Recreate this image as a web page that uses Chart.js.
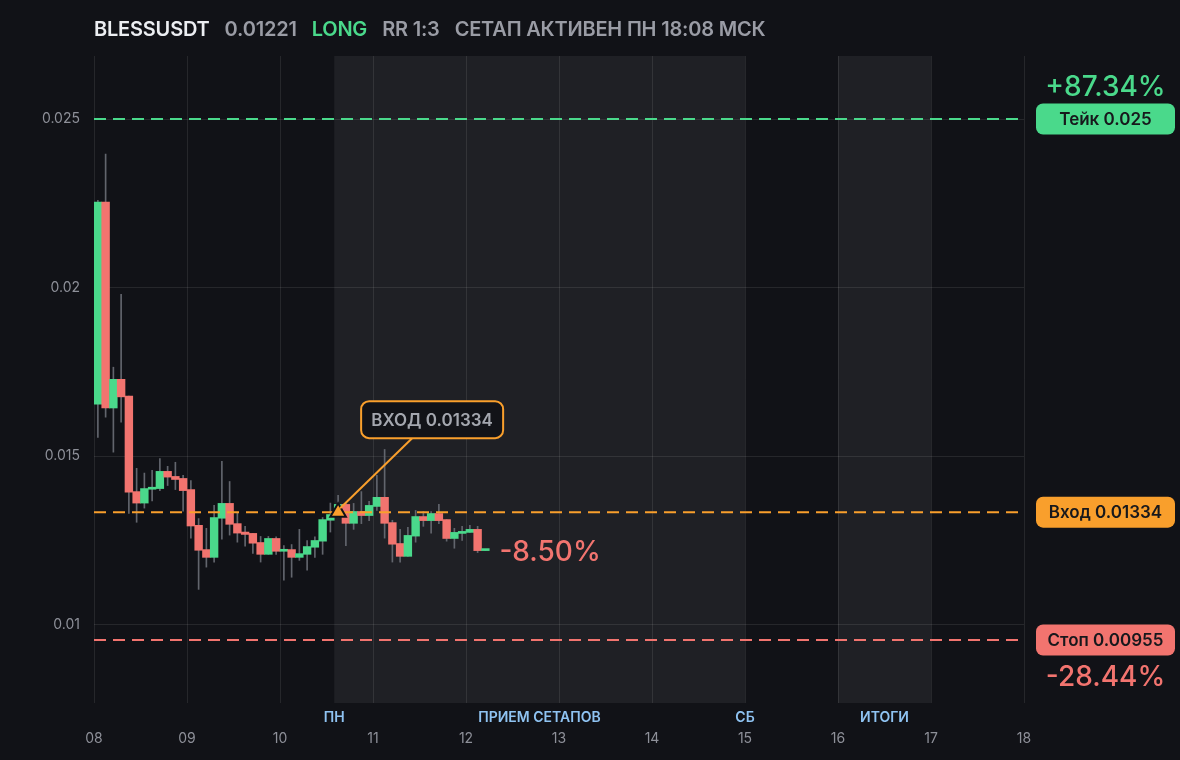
<!DOCTYPE html>
<html lang="ru">
<head>
<meta charset="utf-8">
<title>BLESSUSDT</title>
<script src="https://cdn.jsdelivr.net/npm/chart.js@4.4.1/dist/chart.umd.min.js"></script>
<style>
  html, body { margin:0; padding:0; background:#111217; }
  #wrap { position:relative; width:1180px; height:760px; overflow:hidden; }
  #head { position:absolute; left:94px; top:17px; font:600 20px Inter, sans-serif; color:#9a9ca5; white-space:nowrap; letter-spacing:-0.2px; }
  #head span { margin-right:15px; }
  #head .sym { color:#eceef2; }
  #head .side { color:#4ad98b; }
  canvas { position:absolute; left:0; top:0; }
</style>
</head>
<body>
<div id="wrap">
  <canvas id="chart" width="1180" height="760"></canvas>
  <div id="head"><span class="sym">BLESSUSDT</span><span>0.01221</span><span class="side">LONG</span><span>RR 1:3</span><span>СЕТАП АКТИВЕН ПН 18:08 МСК</span></div>
</div>
<script>
// days on the x axis, prices on the y axis
const dayTicks = [8, 9, 10, 11, 12, 13, 14, 15, 16, 17, 18];
const priceTicks = [0.01, 0.015, 0.02, 0.025];

// 2h candles starting 08 00:00
const firstDay = 8;
const stepHours = 2;
const candleOpen  = [0.01654,0.02254,0.01643,0.01728,0.01678,0.01395,0.01361,0.01402,0.01404,0.01455,0.01440,0.01434,0.01401,0.01295,0.01223,0.01200,0.01316,0.01360,0.01300,0.01275,0.01271,0.01244,0.01209,0.01256,0.01218,0.01223,0.01200,0.01209,0.01230,0.01248,0.01310,0.01330,0.01357,0.01301,0.01336,0.01324,0.01351,0.01378,0.01303,0.01241,0.01203,0.01263,0.01321,0.01309,0.01330,0.01312,0.01256,0.01271,0.01274,0.01283,0.01220];
const candleHigh  = [0.02259,0.02396,0.01764,0.01980,0.01678,0.01464,0.01450,0.01458,0.01493,0.01470,0.01482,0.01443,0.01428,0.01315,0.01286,0.01354,0.01485,0.01425,0.01331,0.01292,0.01271,0.01262,0.01262,0.01261,0.01235,0.01238,0.01283,0.01250,0.01261,0.01318,0.01361,0.01384,0.01360,0.01360,0.01395,0.01366,0.01443,0.01520,0.01310,0.01283,0.01289,0.01339,0.01336,0.01336,0.01357,0.01312,0.01286,0.01292,0.01295,0.01292,0.01222];
const candleLow   = [0.01556,0.01616,0.01512,0.01601,0.01330,0.01304,0.01346,0.01367,0.01398,0.01413,0.01401,0.01337,0.01257,0.01105,0.01171,0.01186,0.01254,0.01266,0.01245,0.01233,0.01212,0.01186,0.01209,0.01209,0.01132,0.01141,0.01191,0.01162,0.01200,0.01209,0.01275,0.01320,0.01235,0.01283,0.01300,0.01309,0.01339,0.01257,0.01186,0.01186,0.01203,0.01245,0.01292,0.01272,0.01300,0.01248,0.01227,0.01250,0.01274,0.01214,0.01220];
const candleClose = [0.02254,0.01643,0.01728,0.01676,0.01393,0.01361,0.01404,0.01408,0.01455,0.01438,0.01431,0.01398,0.01293,0.01221,0.01200,0.01318,0.01360,0.01298,0.01272,0.01268,0.01242,0.01209,0.01256,0.01218,0.01223,0.01200,0.01211,0.01232,0.01250,0.01312,0.01327,0.01357,0.01301,0.01336,0.01324,0.01354,0.01378,0.01301,0.01239,0.01203,0.01265,0.01321,0.01309,0.01330,0.01309,0.01256,0.01274,0.01277,0.01283,0.01220,0.01221];

const takePrice = 0.025;
const entryPrice = 0.01334;
const stopPrice = 0.00955;
const entryIndex = 31;

const zones = [[10.5833, 15], [16, 17]];
const zoneLabels = [
  { x: 10.5833, text: 'ПН' },
  { x: 12.79, text: 'ПРИЕМ СЕТАПОВ' },
  { x: 15, text: 'СБ' },
  { x: 16.5, text: 'ИТОГИ' }
];

const GREEN = '#4ad98b', RED = '#f2746f', ORANGE = '#f99f2c', WICK = '#62656d';

const levels = [
  { price: takePrice, label: 'Тейк 0.025', color: GREEN, pct: '+87.34%', pctShift: -31 },
  { price: entryPrice, label: 'Вход 0.01334', color: ORANGE, pct: null },
  { price: stopPrice, label: 'Стоп 0.00955', color: RED, pct: '-28.44%', pctShift: 38 }
];
const lastMove = '-8.50%';

function candleX(i){ return firstDay + (i * stepHours + stepHours / 2) / 24; }
function hline(price){ return [{ x: dayTicks[0], y: price }, { x: dayTicks[dayTicks.length - 1], y: price }]; }

const bodies = candleOpen.map((o, i) => ({ x: candleX(i), y: [o, candleClose[i]] }));
const wicks = candleLow.map((l, i) => ({ x: candleX(i), y: [l, candleHigh[i]] }));
const bodyColors = candleOpen.map((o, i) => candleClose[i] >= o ? GREEN : RED);

Chart.defaults.font.family = 'Inter, sans-serif';

const overlay = {
  id: 'overlay',
  beforeDraw(chart){
    const { ctx, chartArea: a, scales: { x } } = chart;
    ctx.save();
    ctx.fillStyle = '#1f2025';
    zones.forEach(([s, e]) => {
      const x0 = x.getPixelForValue(s), x1 = x.getPixelForValue(e);
      ctx.fillRect(x0, a.top, x1 - x0, a.bottom - a.top);
    });
    ctx.restore();
  },
  afterDraw(chart){
    const { ctx, chartArea: a, scales: { x, y } } = chart;
    ctx.save();

    // zone captions under the plot
    ctx.font = '600 14px Inter, sans-serif';
    ctx.fillStyle = '#8fc3f2';
    ctx.textAlign = 'center';
    ctx.textBaseline = 'middle';
    zoneLabels.forEach(z => ctx.fillText(z.text, x.getPixelForValue(z.x), a.bottom + 15));

    // level badges on the right
    const bx = a.right + 12, bw = 139, bh = 31;
    levels.forEach(l => {
      const py = y.getPixelForValue(l.price);
      ctx.fillStyle = l.color;
      ctx.beginPath();
      ctx.roundRect(bx, py - bh / 2, bw, bh, 7);
      ctx.fill();
      ctx.fillStyle = '#17181c';
      ctx.font = '600 17px Inter, sans-serif';
      ctx.fillText(l.label, bx + bw / 2, py + 1);
      if (l.pct){
        ctx.fillStyle = l.color;
        ctx.font = '500 28px Inter, sans-serif';
        ctx.fillText(l.pct, bx + bw / 2, py + l.pctShift);
      }
    });

    // entry callout
    const ex = x.getPixelForValue(candleX(entryIndex)), ey = y.getPixelForValue(entryPrice);
    const boxL = ex + 23, boxT = ey - 111, boxW = 142, boxH = 37;
    ctx.strokeStyle = ORANGE;
    ctx.lineWidth = 2;
    ctx.beginPath();
    ctx.moveTo(ex + 74, boxT + boxH);
    ctx.lineTo(ex + 2, ey - 4);
    ctx.stroke();
    ctx.fillStyle = '#121318';
    ctx.beginPath();
    ctx.roundRect(boxL, boxT, boxW, boxH, 8);
    ctx.fill();
    ctx.stroke();
    ctx.fillStyle = '#a4a7af';
    ctx.font = '600 17px Inter, sans-serif';
    ctx.fillText('ВХОД ' + entryPrice, boxL + boxW / 2, boxT + boxH / 2 + 1);

    // move since entry, next to last candle
    const last = candleClose.length - 1;
    ctx.textAlign = 'left';
    ctx.fillStyle = RED;
    ctx.font = '500 28px Inter, sans-serif';
    ctx.fillText(lastMove, x.getPixelForValue(candleX(last)) + 14, y.getPixelForValue(candleClose[last]) + 2);
    ctx.restore();
  }
};

new Chart(document.getElementById('chart'), {
  type: 'bar',
  data: {
    datasets: [
      { type: 'line', data: hline(takePrice), borderColor: GREEN, borderWidth: 2, borderDash: [12, 7], pointRadius: 0, order: 0 },
      { type: 'line', data: hline(entryPrice), borderColor: ORANGE, borderWidth: 2, borderDash: [12, 7], pointRadius: 0, order: 0 },
      { type: 'line', data: hline(stopPrice), borderColor: RED, borderWidth: 2, borderDash: [12, 7], pointRadius: 0, order: 0 },
      { type: 'scatter', data: [{ x: candleX(entryIndex), y: entryPrice }], pointStyle: 'triangle', pointRadius: 9,
        backgroundColor: ORANGE, borderColor: '#111217', borderWidth: 2, order: -1 },
      { data: bodies, backgroundColor: bodyColors, borderWidth: 0, grouped: false,
        barPercentage: 1, categoryPercentage: 1, minBarLength: 2, order: 1 },
      { data: wicks, backgroundColor: WICK, borderWidth: 0, grouped: false, barThickness: 1, order: 2 }
    ]
  },
  options: {
    responsive: false,
    animation: false,
    layout: { padding: { left: 0, right: 156, top: 56, bottom: 0 } },
    plugins: { legend: { display: false }, tooltip: { enabled: false } },
    scales: {
      x: {
        type: 'linear',
        offset: false,
        min: dayTicks[0],
        max: dayTicks[dayTicks.length - 1],
        afterBuildTicks: s => { s.ticks = dayTicks.map(v => ({ value: v })); },
        afterFit: s => { s.height = 57; },
        grid: { color: 'rgba(255,255,255,0.09)', drawTicks: false, offset: false },
        border: { display: false },
        ticks: { color: '#8e9099', font: { size: 14 }, padding: 27, maxRotation: 0,
          callback: v => String(v).padStart(2, '0') }
      },
      y: {
        min: 0.00768,
        max: 0.02687,
        afterBuildTicks: s => { s.ticks = priceTicks.map(v => ({ value: v })); },
        afterFit: s => { s.width = 94; },
        grid: { color: 'rgba(255,255,255,0.09)', drawTicks: false },
        border: { display: false },
        ticks: { color: '#8e9099', font: { size: 14 }, padding: 14, callback: v => String(v) }
      }
    }
  },
  plugins: [overlay]
});
</script>
</body>
</html>
